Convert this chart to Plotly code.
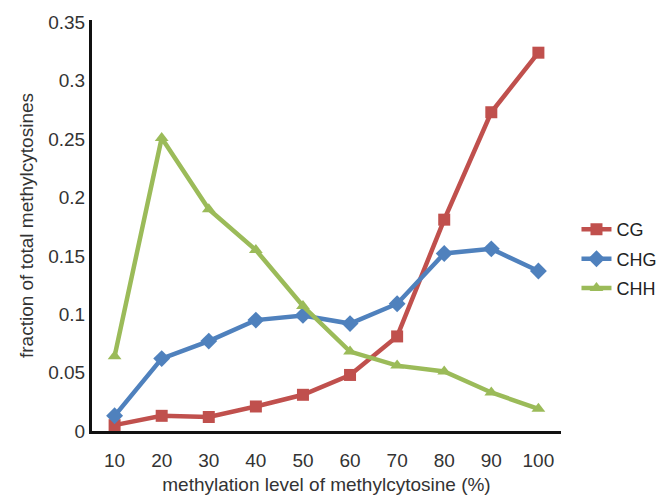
import plotly.graph_objects as go

levels = [10, 20, 30, 40, 50, 60, 70, 80, 90, 100]
cg = [0.005, 0.013, 0.012, 0.021, 0.031, 0.048, 0.081, 0.181, 0.273, 0.324]
chg = [0.013, 0.062, 0.077, 0.095, 0.099, 0.092, 0.109, 0.152, 0.156, 0.137]
chh = [0.064, 0.251, 0.190, 0.155, 0.107, 0.068, 0.056, 0.051, 0.033, 0.019]
y_ticks = [0, 0.05, 0.1, 0.15, 0.2, 0.25, 0.3, 0.35]
y_tick_text = ["0", "0.05", "0.1", "0.15", "0.2", "0.25", "0.3", "0.35"]

font = "Liberation Sans, Arial, sans-serif"

fig = go.Figure()
series = [
    ("CG", cg, "#C0504D", "square", 12),
    ("CHG", chg, "#4F81BD", "diamond", 13),
    ("CHH", chh, "#9BBB59", "triangle-up", 12),
]
for name, vals, col, sym, sz in series:
    fig.add_trace(go.Scatter(
        x=levels, y=vals, name=name, mode="lines+markers", legendgroup=name,
        line=dict(color=col, width=4.5),
        marker=dict(symbol=sym, size=sz, color=col),
    ))

fig.update_layout(
    width=665, height=498,
    margin=dict(l=84, r=105, t=12, b=75),
    paper_bgcolor="white", plot_bgcolor="white",
    font=dict(family=font, size=19, color="#333333"),
    showlegend=True,
    legend=dict(x=1.033, y=0.535, xanchor="left", yanchor="top",
                font=dict(size=18, color="#222222"),
                bgcolor="rgba(0,0,0,0)", tracegroupgap=3),
    xaxis=dict(range=[5.2, 104.8], tickvals=levels, showgrid=False, zeroline=False,
               showline=True, linecolor="#111111", linewidth=3,
               ticks="outside", ticklen=10, tickcolor="rgba(0,0,0,0)",
               automargin=False,
               title=dict(text="methylation level of methylcytosine (%)",
                          font=dict(size=19, color="#333333"), standoff=8)),
    yaxis=dict(range=[0, 0.352], tickvals=y_ticks, ticktext=y_tick_text,
               showgrid=False, zeroline=False, automargin=False,
               showline=True, linecolor="#111111", linewidth=3, ticks="",
               title=dict(text="fraction of total methylcytosines",
                          font=dict(size=19, color="#333333"), standoff=10)),
)

fig.write_html("out.html")
